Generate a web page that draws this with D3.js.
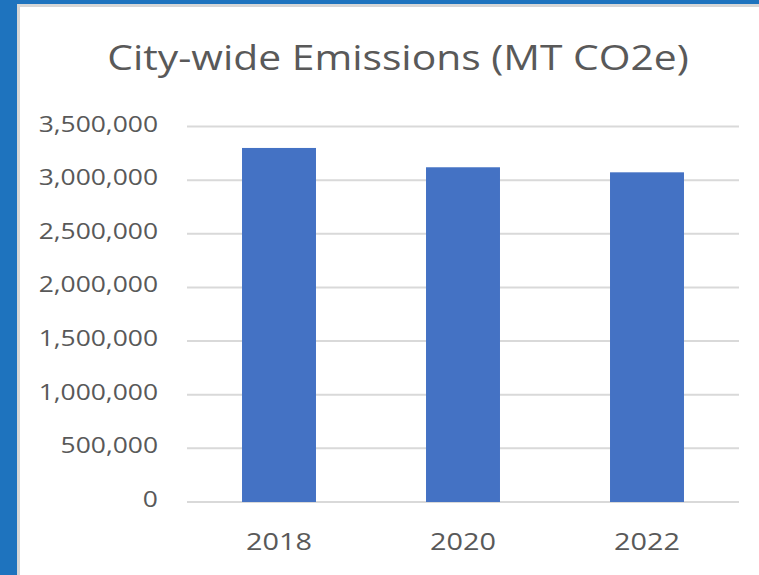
<!DOCTYPE html>
<meta charset="utf-8">
<script src="https://d3js.org/d3.v7.min.js"></script>
<style>
  body { margin: 0; background: #1e73be; }
  svg { display: block; }
</style>
<body>
<div id="draw"></div>
</body>
<script>
  var years = ["2018", "2020", "2022"];
  var emissions = [3300000, 3120000, 3073000];
  var yTicks = [0, 500000, 1000000, 1500000, 2000000, 2500000, 3000000, 3500000];
  var title = "City-wide Emissions (MT CO2e)";

  var width = 759, height = 575;
  var plot = {left: 187, right: 739, top: 126.5, bottom: 502};
  var textColor = "#595959";
  var stretch = 1.2; // the source screenshot is a bit wide

  var svg = d3.select("#draw").append("svg")
    .attr("width", width).attr("height", height);

  // white card sitting on the blue page
  svg.append("rect")
    .attr("x", 18.5).attr("y", 5.5)
    .attr("width", width + 10).attr("height", height + 10)
    .attr("fill", "#fff")
    .attr("stroke", "#d6d6d6")
    .attr("stroke-width", 3);

  var x = d3.scaleBand()
    .domain(years)
    .range([plot.left, plot.right])
    .paddingInner(0.598)
    .paddingOuter(0.299);

  var y = d3.scaleLinear()
    .domain([0, 3500000])
    .range([plot.bottom, plot.top]);

  function widen(sel) {
    sel.each(function(){
      var w = this.getComputedTextLength();
      d3.select(this).attr("textLength", w * stretch).attr("lengthAdjust", "spacingAndGlyphs");
    });
  }

  // gridlines
  svg.append("g").selectAll("line")
    .data(yTicks)
    .enter().append("line")
    .attr("x1", plot.left).attr("x2", plot.right)
    .attr("y1", function(d){ return y(d); })
    .attr("y2", function(d){ return y(d); })
    .attr("stroke", "#d9d9d9")
    .attr("stroke-width", 2);

  // y labels
  svg.append("g").selectAll("text")
    .data(yTicks)
    .enter().append("text")
    .attr("x", 158)
    .attr("y", function(d){ return y(d) + 5; })
    .attr("text-anchor", "end")
    .attr("font-family", "Open Sans")
    .attr("font-size", 22)
    .attr("fill", textColor)
    .text(function(d){ return d3.format(",")(d); })
    .call(widen);

  // bars
  svg.append("g").selectAll("rect")
    .data(years)
    .enter().append("rect")
    .attr("x", function(d){ return x(d); })
    .attr("width", x.bandwidth())
    .attr("y", function(d, i){ return y(emissions[i]); })
    .attr("height", function(d, i){ return y(0) - y(emissions[i]); })
    .attr("fill", "#4472c4");

  // x labels
  svg.append("g").selectAll("text")
    .data(years)
    .enter().append("text")
    .attr("x", function(d){ return x(d) + x.bandwidth() / 2; })
    .attr("y", 550)
    .attr("text-anchor", "middle")
    .attr("font-family", "Open Sans")
    .attr("font-size", 24)
    .attr("fill", textColor)
    .text(function(d){ return d; })
    .call(widen);

  svg.append("text")
    .attr("x", 398)
    .attr("y", 70)
    .attr("text-anchor", "middle")
    .attr("font-family", "Open Sans")
    .attr("font-size", 34)
    .attr("fill", textColor)
    .text(title)
    .call(widen);
</script>
